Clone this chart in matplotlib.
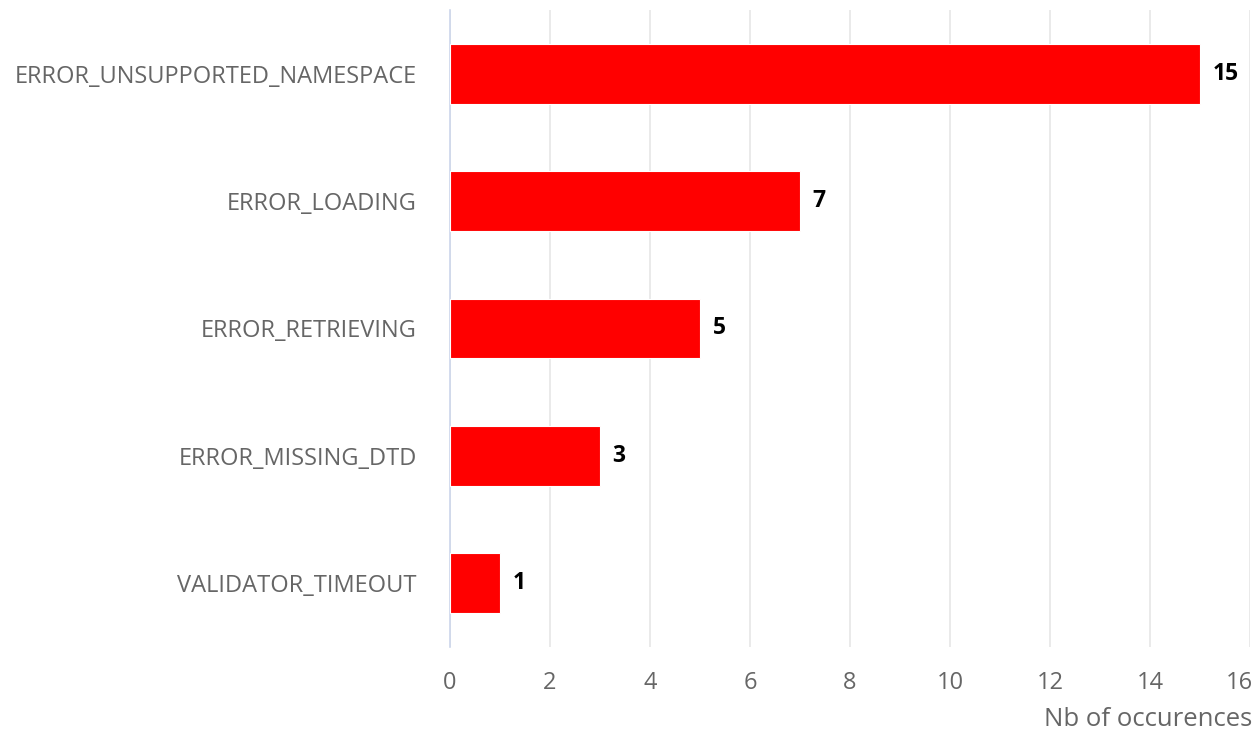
import matplotlib
matplotlib.use("Agg")
import matplotlib.pyplot as plt
import matplotlib.transforms as mtransforms

categories = ["ERROR_UNSUPPORTED_NAMESPACE", "ERROR_LOADING", "ERROR_RETRIEVING",
              "ERROR_MISSING_DTD", "VALIDATOR_TIMEOUT"]
values = [15, 7, 5, 3, 1]
x_ticks = [0, 2, 4, 6, 8, 10, 12, 14, 16]

plt.rcParams['font.family'] = ['Open Sans', 'DejaVu Sans']

fig = plt.figure(figsize=(12.56, 7.39), dpi=100)
ax = fig.add_axes([450/1256, 1 - 647/739, 800/1256, 637/739])

y = list(range(len(categories)))
ax.barh(y, values, height=0.47, color="#ff0000", edgecolor="white", linewidth=0.8, zorder=3)
for yi, v in zip(y, values):
    ax.text(v + 0.25, yi, str(v), va="center", ha="left", fontsize=16.5,
            fontweight="bold", color="black", zorder=4)

ax.set_ylim(len(categories) - 0.5, -0.5)
ax.set_xlim(0, 16)
ax.set_xticks(x_ticks)
ax.set_xticklabels([str(t) for t in x_ticks])
ax.set_yticks(y)
ax.set_yticklabels(categories)
ax.xaxis.grid(True, color="#e6e6e6", linewidth=1.2, zorder=0)
ax.set_axisbelow(True)
for s in ["top", "right", "bottom"]:
    ax.spines[s].set_visible(False)
ax.spines["left"].set_color("#ccd6eb")
ax.spines["left"].set_linewidth(1.2)
ax.tick_params(axis="both", length=0, labelsize=17, colors="#666666")
ax.tick_params(axis="x", pad=17)
ax.tick_params(axis="y", pad=24)

last = ax.get_xticklabels()[-1]
last.set_horizontalalignment("right")
last.set_transform(last.get_transform() +
                   mtransforms.ScaledTranslation(3/100, 0, fig.dpi_scale_trans))

fig.text(1252/1256, 1 - 720/739, "Nb of occurences", ha="right", va="center",
         fontsize=18.5, color="#666666")

fig.savefig("out.png", dpi=100)
